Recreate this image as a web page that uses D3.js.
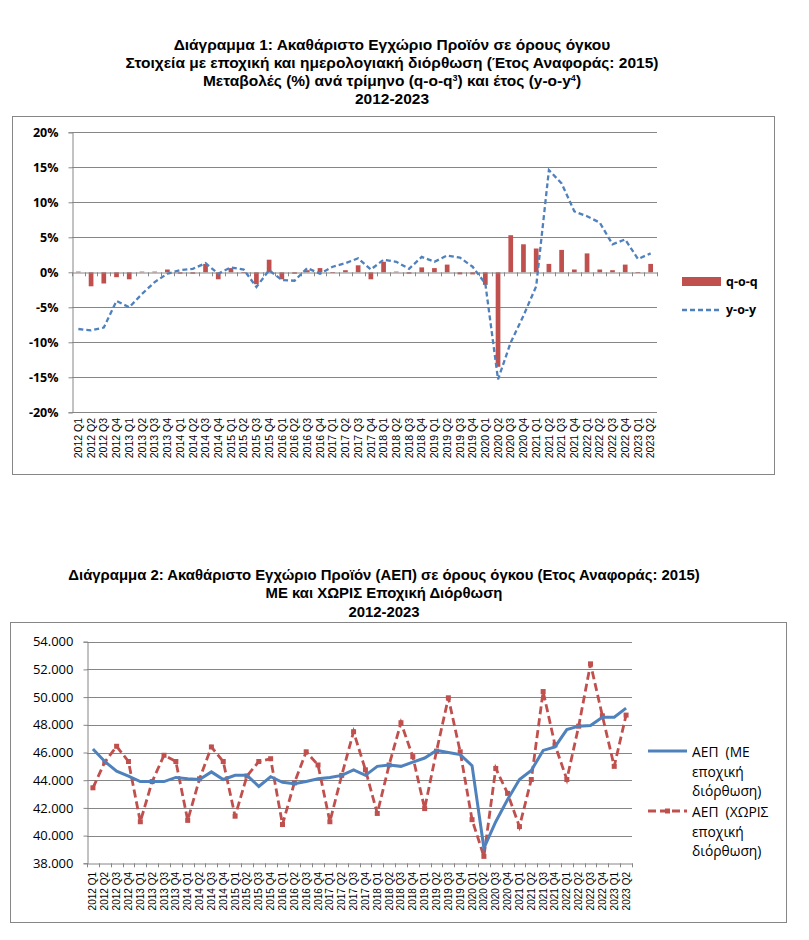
<!DOCTYPE html>
<html>
<head>
<meta charset="utf-8">
<script src="https://cdn.jsdelivr.net/npm/d3@7"></script>
<style>
  body { margin: 0; background: #fff; }
  svg { display: block; }
</style>
</head>
<body>
<svg width="809" height="940"></svg>
<script>
// quarters 2012 Q1 .. 2023 Q2
var quarters = [];
for (var yr = 2012; yr <= 2023; yr++) {
  for (var q = 1; q <= 4; q++) {
    if (yr == 2023 && q > 2) break;
    quarters.push(yr + " Q" + q);
  }
}

// chart 1: % changes
var qoq = [0.1, -2.0, -1.6, -0.7, -1.0, 0.1, 0.1, 0.4, -0.2, -0.2,
           1.2, -1.0, 0.6, -0.1, -1.7, 1.8, -1.0, -0.2, 0.3, 0.6,
           -0.1, 0.3, 1.0, -1.0, 1.5, 0.1, -0.2, 0.7, 0.6, 1.1,
           -0.3, -0.3, -1.8, -13.5, 5.3, 4.0, 3.4, 1.2, 3.2, 0.4,
           2.7, 0.4, 0.3, 1.1, -0.1, 1.2];
var yoy = [-8.1, -8.3, -7.9, -4.1, -5.0, -3.1, -1.4, -0.2, 0.3, 0.5,
           1.3, -0.2, 0.7, 0.4, -2.1, 0.3, -1.1, -1.2, 0.6, -0.2,
           0.8, 1.3, 2.0, 0.4, 1.8, 1.5, 0.5, 2.2, 1.5, 2.4,
           2.1, 0.8, -1.6, -15.3, -10.0, -6.2, -2.0, 14.6, 12.7, 8.7,
           8.0, 7.1, 4.0, 4.7, 1.9, 2.7];
var pctTicks = [-20, -15, -10, -5, 0, 5, 10, 15, 20];

// chart 2: GDP volume (million euro)
var gdpSA = [46250, 45350, 44650, 44300, 43900, 43900, 43900, 44200, 44100, 44050,
             44600, 44050, 44350, 44350, 43550, 44250, 43850, 43750, 43900, 44100,
             44200, 44350, 44750, 44350, 45000, 45100, 45000, 45300, 45600, 46150,
             46000, 45850, 45050, 39100, 41000, 42600, 44050, 44700, 46150, 46400,
             47650, 47900, 47950, 48550, 48550, 49200];
var gdpNSA = [43450, 45300, 46450, 45350, 41000, 43900, 45800, 45350, 41100, 44100,
              46400, 45350, 41400, 44300, 45350, 45550, 40800, 43800, 46050, 45100,
              41000, 44350, 47500, 44750, 41600, 45100, 48150, 45700, 41950, 46100,
              49950, 46050, 41150, 38500, 44850, 43050, 40650, 44050, 50400, 46550,
              44050, 47900, 52400, 48650, 45000, 48700];
var gdpTicks = [38000, 40000, 42000, 44000, 46000, 48000, 50000, 52000, 54000];

var red = "#C0504D", blue = "#4F81BD", grid = "#868686";
var svg = d3.select("svg");

// ---------- Chart 1 ----------
svg.append("rect").attr("x", 12.5).attr("y", 116.5).attr("width", 762).attr("height", 358)
  .attr("fill", "none").attr("stroke", grid);

var t1 = svg.append("g").attr("text-anchor", "middle")
  .attr("font-family", "Liberation Sans").attr("font-weight", "bold").attr("font-size", 15.5);
t1.append("text").attr("x", 392).attr("y", 50).text("Διάγραμμα 1: Ακαθάριστο Εγχώριο Προϊόν σε όρους όγκου");
t1.append("text").attr("x", 392).attr("y", 68).text("Στοιχεία με εποχική και ημερολογιακή διόρθωση (Έτος Αναφοράς: 2015)");
var l3 = t1.append("text").attr("x", 392).attr("y", 86);
l3.append("tspan").text("Μεταβολές (%) ανά τρίμηνο (q-o-q");
l3.append("tspan").attr("dy", -5).attr("font-size", 9).text("3");
l3.append("tspan").attr("dy", 5).text(") και έτος (y-o-y");
l3.append("tspan").attr("dy", -5).attr("font-size", 9).text("4");
l3.append("tspan").attr("dy", 5).text(")");
t1.append("text").attr("x", 392).attr("y", 104).text("2012-2023");

var x1 = d3.scaleBand().domain(quarters).range([72, 657]);
var y1 = d3.scaleLinear().domain([-20, 20]).range([412.3, 132.3]);

var g1 = svg.append("g");
g1.selectAll(".grid").data(pctTicks.filter(function(d) { return d != 0; }))
  .enter().append("line")
  .attr("x1", 72).attr("x2", 657)
  .attr("y1", function(d) { return Math.round(y1(d)) + 0.5; })
  .attr("y2", function(d) { return Math.round(y1(d)) + 0.5; })
  .attr("stroke", grid);

g1.append("g")
  .attr("transform", "translate(72.5,0)")
  .call(d3.axisLeft(y1).tickValues(pctTicks).tickSize(4).tickPadding(10)
    .tickFormat(function(d) { return d + "%"; }))
  .call(function(g) {
    g.select(".domain").attr("stroke", grid);
    g.selectAll(".tick line").attr("stroke", grid);
    g.selectAll("text").attr("font-family", "Open Sans").attr("font-weight", "bold")
      .attr("font-size", 12.5).attr("fill", "#000");
  });

var bw = x1.bandwidth();
g1.selectAll(".bar").data(qoq).enter().append("rect")
  .attr("x", function(d, i) { return x1(quarters[i]) + bw * 0.315; })
  .attr("width", bw * 0.37)
  .attr("y", function(d) { return y1(Math.max(0, d)); })
  .attr("height", function(d) { return Math.abs(y1(d) - y1(0)); })
  .attr("fill", red);

// category axis on zero line
g1.append("g")
  .attr("transform", "translate(0," + (Math.round(y1(0)) + 0.5) + ")")
  .call(d3.axisBottom(x1).tickSize(0).tickFormat(""))
  .call(function(g) { g.select(".domain").attr("stroke", grid); });
g1.selectAll(".tk1").data(d3.range(quarters.length + 1)).enter().append("line")
  .attr("x1", function(i) { return Math.round(72 + i * bw) + 0.5; })
  .attr("x2", function(i) { return Math.round(72 + i * bw) + 0.5; })
  .attr("y1", y1(0)).attr("y2", y1(0) + 4).attr("stroke", grid);

var line1 = d3.line()
  .x(function(d, i) { return x1(quarters[i]) + bw / 2; })
  .y(function(d) { return y1(d); });
g1.append("path").datum(yoy).attr("d", line1)
  .attr("fill", "none").attr("stroke", blue).attr("stroke-width", 2.3)
  .attr("stroke-dasharray", "5,3");

g1.selectAll(".xl").data(quarters).enter().append("text")
  .attr("transform", function(d) { return "translate(" + (x1(d) + bw / 2) + ",418) rotate(-90)"; })
  .attr("text-anchor", "end").attr("dy", "0.35em")
  .attr("font-family", "Liberation Sans").attr("font-size", 10.5)
  .text(function(d) { return d; });

// legend 1
svg.append("rect").attr("x", 682).attr("y", 277).attr("width", 39).attr("height", 9).attr("fill", red);
svg.append("line").attr("x1", 682).attr("x2", 721).attr("y1", 310).attr("y2", 310)
  .attr("stroke", blue).attr("stroke-width", 2.3).attr("stroke-dasharray", "5,3");
var lg1 = svg.append("g").attr("font-family", "Open Sans").attr("font-weight", "bold").attr("font-size", 12.5);
lg1.append("text").attr("x", 726).attr("y", 282).attr("dy", "0.35em").text("q-o-q");
lg1.append("text").attr("x", 726).attr("y", 310).attr("dy", "0.35em").text("y-o-y");

// ---------- Chart 2 ----------
svg.append("rect").attr("x", 10.5).attr("y", 622.5).attr("width", 776).attr("height", 300)
  .attr("fill", "none").attr("stroke", grid);

var t2 = svg.append("g").attr("text-anchor", "middle")
  .attr("font-family", "Liberation Sans").attr("font-weight", "bold").attr("font-size", 14.9);
t2.append("text").attr("x", 384).attr("y", 580).text("Διάγραμμα 2: Ακαθάριστο Εγχώριο Προϊόν (ΑΕΠ) σε όρους όγκου (Ετος Αναφοράς: 2015)");
t2.append("text").attr("x", 384).attr("y", 598).text("ΜΕ και ΧΩΡΙΣ Εποχική Διόρθωση");
t2.append("text").attr("x", 384).attr("y", 617).text("2012-2023");

var x2 = d3.scaleBand().domain(quarters).range([87, 632]);
var y2 = d3.scaleLinear().domain([38000, 54000]).range([863.3, 641.7]);
var bw2 = x2.bandwidth();
var grFmt = d3.formatLocale({ decimal: ",", thousands: ".", grouping: [3], currency: ["", "€"] }).format(",.0f");
// Greek style always shows the dot for 4-digit+ values
function fmt2(d) { return grFmt(d).replace(/^(\d\d)(\d{3})$/, "$1.$2"); }

var g2 = svg.append("g");
g2.selectAll(".grid2").data(gdpTicks.slice(1)).enter().append("line")
  .attr("x1", 87).attr("x2", 632)
  .attr("y1", function(d) { return Math.round(y2(d)) + 0.5; })
  .attr("y2", function(d) { return Math.round(y2(d)) + 0.5; })
  .attr("stroke", grid);

g2.append("g")
  .attr("transform", "translate(87.5,0)")
  .call(d3.axisLeft(y2).tickValues(gdpTicks).tickSize(4).tickPadding(10).tickFormat(fmt2))
  .call(function(g) {
    g.select(".domain").attr("stroke", grid);
    g.selectAll(".tick line").attr("stroke", grid);
    g.selectAll("text").attr("font-family", "Open Sans").attr("font-size", 13).attr("fill", "#000");
  });

g2.append("g")
  .attr("transform", "translate(0," + (Math.round(y2(38000)) + 0.5) + ")")
  .call(d3.axisBottom(x2).tickSize(0).tickFormat(""))
  .call(function(g) { g.select(".domain").attr("stroke", grid); });
g2.selectAll(".tk2").data(d3.range(quarters.length + 1)).enter().append("line")
  .attr("x1", function(i) { return Math.round(87 + i * bw2) + 0.5; })
  .attr("x2", function(i) { return Math.round(87 + i * bw2) + 0.5; })
  .attr("y1", y2(38000)).attr("y2", y2(38000) + 4).attr("stroke", grid);

var line2 = d3.line()
  .x(function(d, i) { return x2(quarters[i]) + bw2 / 2; })
  .y(function(d) { return y2(d); });
g2.append("path").datum(gdpNSA).attr("d", line2)
  .attr("fill", "none").attr("stroke", red).attr("stroke-width", 2.8)
  .attr("stroke-dasharray", "8,4");
g2.selectAll(".mk").data(gdpNSA).enter().append("rect")
  .attr("x", function(d, i) { return x2(quarters[i]) + bw2 / 2 - 2.5; })
  .attr("y", function(d) { return y2(d) - 2.5; })
  .attr("width", 5).attr("height", 5).attr("fill", red);
g2.append("path").datum(gdpSA).attr("d", line2)
  .attr("fill", "none").attr("stroke", blue).attr("stroke-width", 3);

g2.selectAll(".xl2").data(quarters).enter().append("text")
  .attr("transform", function(d) { return "translate(" + (x2(d) + bw2 / 2) + ",872) rotate(-90)"; })
  .attr("text-anchor", "end").attr("dy", "0.35em")
  .attr("font-family", "Liberation Sans").attr("font-size", 10)
  .text(function(d) { return d; });

// legend 2
svg.append("line").attr("x1", 648).attr("x2", 687).attr("y1", 751).attr("y2", 751)
  .attr("stroke", blue).attr("stroke-width", 3);
svg.append("line").attr("x1", 648).attr("x2", 687).attr("y1", 811).attr("y2", 811)
  .attr("stroke", red).attr("stroke-width", 2.8).attr("stroke-dasharray", "8,4");
svg.append("rect").attr("x", 665).attr("y", 808.5).attr("width", 5).attr("height", 5).attr("fill", red);
var lg2 = svg.append("g").attr("font-family", "Open Sans").attr("font-size", 13.8);
[["ΑΕΠ  (ΜΕ", 752], ["εποχική", 772], ["διόρθωση)", 791],
 ["ΑΕΠ  (ΧΩΡΙΣ", 812], ["εποχική", 832], ["διόρθωση)", 851]].forEach(function(r) {
  lg2.append("text").attr("x", 692).attr("y", r[1]).attr("dy", "0.35em")
    .attr("xml:space", "preserve").style("white-space", "pre").text(r[0]);
});
</script>
</body>
</html>
